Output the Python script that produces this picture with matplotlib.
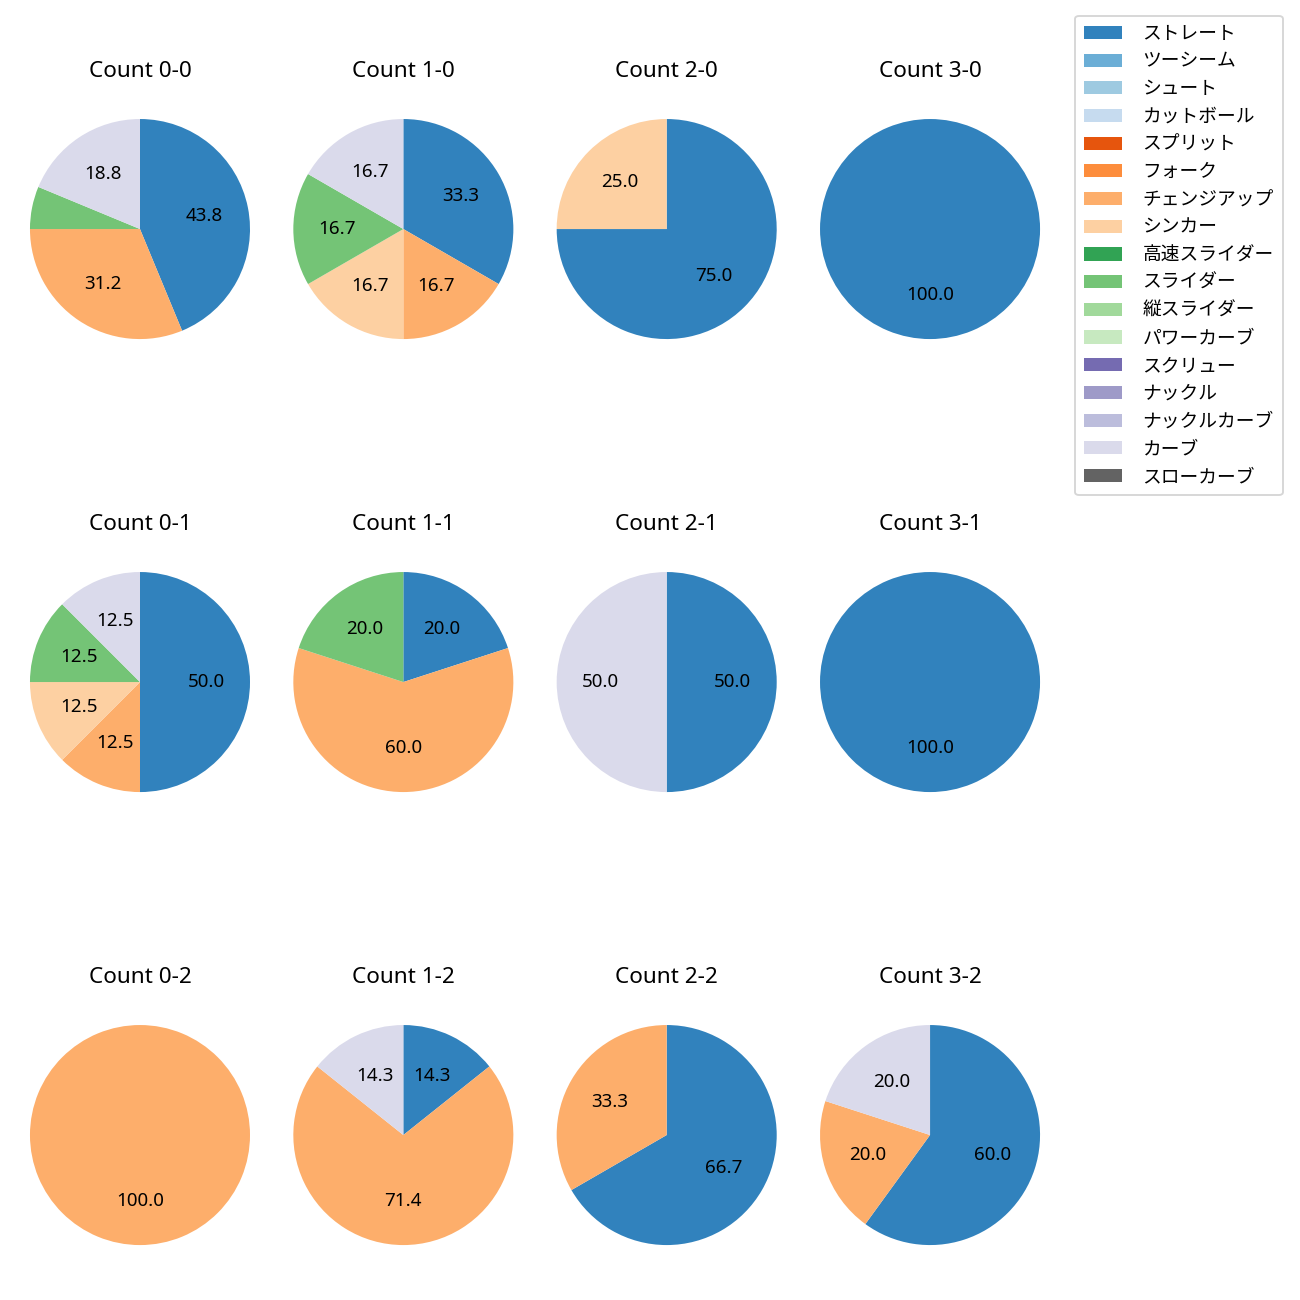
import matplotlib.pyplot as plt
from matplotlib.patches import Patch

plt.rcParams['font.family'] = ['Noto Sans', 'Noto Sans CJK JP', 'DejaVu Sans']

# pitch types (legend order) and colours
pitch_types = ['ストレート', 'ツーシーム', 'シュート', 'カットボール', 'スプリット', 'フォーク',
               'チェンジアップ', 'シンカー', '高速スライダー', 'スライダー', '縦スライダー',
               'パワーカーブ', 'スクリュー', 'ナックル', 'ナックルカーブ', 'カーブ', 'スローカーブ']
cmap = plt.get_cmap('tab20c')
pitch_colors = {p: cmap(i) for i, p in enumerate(pitch_types)}

# counts: (balls, strikes) -> pitches thrown of each type
count_0_0 = {'ストレート': 7, 'チェンジアップ': 5, 'スライダー': 1, 'カーブ': 3}
count_1_0 = {'ストレート': 2, 'チェンジアップ': 1, 'シンカー': 1, 'スライダー': 1, 'カーブ': 1}
count_2_0 = {'ストレート': 3, 'シンカー': 1}
count_3_0 = {'ストレート': 1}
count_0_1 = {'ストレート': 4, 'チェンジアップ': 1, 'シンカー': 1, 'スライダー': 1, 'カーブ': 1}
count_1_1 = {'ストレート': 1, 'チェンジアップ': 3, 'スライダー': 1}
count_2_1 = {'ストレート': 1, 'カーブ': 1}
count_3_1 = {'ストレート': 1}
count_0_2 = {'チェンジアップ': 1}
count_1_2 = {'ストレート': 1, 'チェンジアップ': 5, 'カーブ': 1}
count_2_2 = {'ストレート': 2, 'チェンジアップ': 1}
count_3_2 = {'ストレート': 3, 'チェンジアップ': 1, 'カーブ': 1}

grid = [
    [('0-0', count_0_0), ('1-0', count_1_0), ('2-0', count_2_0), ('3-0', count_3_0)],
    [('0-1', count_0_1), ('1-1', count_1_1), ('2-1', count_2_1), ('3-1', count_3_1)],
    [('0-2', count_0_2), ('1-2', count_1_2), ('2-2', count_2_2), ('3-2', count_3_2)],
]

dpi = 135
fig, axes = plt.subplots(3, 4, figsize=(1300 / dpi, 1300 / dpi), dpi=dpi)
fig.subplots_adjust(left=0.0019, right=0.8212, top=0.9392, bottom=0.0115,
                    wspace=-0.0425, hspace=0.51)

for r, row in enumerate(grid):
    for c, (label, data) in enumerate(row):
        ax = axes[r, c]
        names = list(data.keys())
        vals = list(data.values())
        ax.pie(vals, colors=[pitch_colors[n] for n in names],
               autopct=lambda p: f'{p:.1f}' if p >= 10 else '',
               startangle=90, counterclock=False,
               textprops={'fontsize': 10})
        ax.set_title(f'Count {label}', fontsize=12, pad=7.6)

handles = [Patch(facecolor=pitch_colors[p], label=p) for p in pitch_types]
fig.legend(handles=handles, loc='upper right', bbox_to_anchor=(0.987, 0.988),
           borderaxespad=0, fontsize=10, borderpad=0.5, handletextpad=1.1,
           labelspacing=0.517)

fig.savefig('out.png', dpi=dpi)
